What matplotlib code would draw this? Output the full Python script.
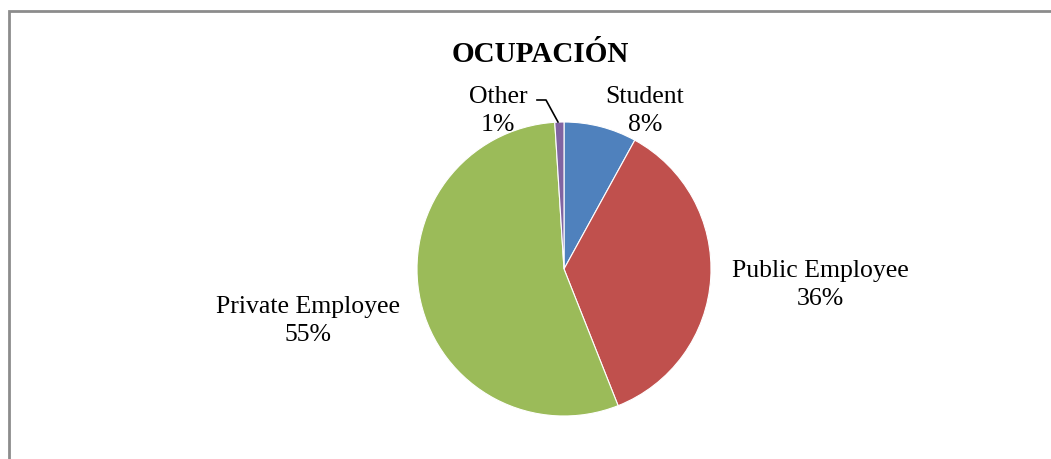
import matplotlib
matplotlib.use("Agg")
import matplotlib.pyplot as plt

# datos del gráfico
categorias = ["Student", "Public Employee", "Private Employee", "Other"]
porcentajes = [8, 36, 55, 1]
colores = ["#4F81BD", "#C0504D", "#9BBB59", "#8064A2"]
titulo = "OCUPACIÓN"

W, H = 1051, 460
plt.rcParams["font.family"] = ["Liberation Serif", "DejaVu Serif"]

fig = plt.figure(figsize=(W / 100, H / 100), dpi=100)
ax = fig.add_axes([0, 0, 1, 1])


def py(y):
    # pasar de coordenada de imagen (desde arriba) a coordenada del eje
    return H - y


ax.pie(porcentajes, colors=colores, startangle=90, counterclock=False,
       center=(564, py(270)), radius=147, frame=True,
       wedgeprops=dict(edgecolor="white", linewidth=0.8))
ax.set_xlim(0, W)
ax.set_ylim(0, H)
ax.set_aspect("equal")
ax.axis("off")

# marco gris del gráfico
ax.plot([8.5, 8.5, W], [0, py(12), py(12)], color="#8c8c8c", lw=2,
        solid_joinstyle="miter", clip_on=False)

ax.text(540, py(54), titulo, ha="center", va="center",
        fontsize=21, fontweight="bold")

# etiquetas: nombre + porcentaje
pos_etiquetas = {
    "Student": (645, 111),
    "Public Employee": (820, 285),
    "Private Employee": (308, 321),
    "Other": (498, 111),
}
for cat, val in zip(categorias, porcentajes):
    x, y = pos_etiquetas[cat]
    ax.text(x, py(y), f"{cat}\n{val}%", ha="center", va="center",
            fontsize=18.5, linespacing=1.32)

# línea guía de "Other"
ax.plot([537, 546, 558], [py(101), py(101), py(123)], color="black", lw=1.2)

fig.savefig("out.png", dpi=100, facecolor="white")
